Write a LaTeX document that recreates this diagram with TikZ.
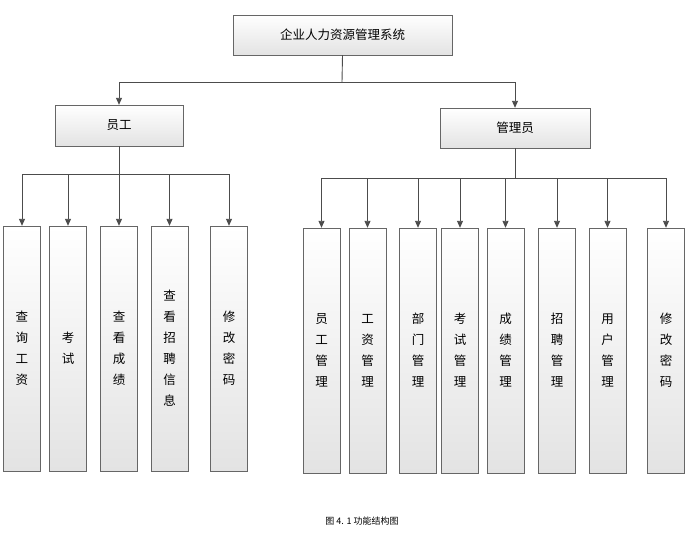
\documentclass[tikz,border=0pt]{standalone}
\usepackage{fontspec}
\setmainfont{Noto Sans CJK SC}
\usetikzlibrary{arrows.meta}
\begin{document}
\begin{tikzpicture}[x=1pt,y=-1pt,
  bx/.style={draw=gray!80!black,top color=white,bottom color=gray!22,inner sep=0pt,font=\fontsize{12.5}{15}\selectfont},
  vbox/.style={bx,minimum width=37pt,minimum height=245pt,align=center,font=\fontsize{12.5}{21}\selectfont},
  con/.style={draw=black!70,line width=0.9pt},
  arr/.style={con,-{Triangle[length=7pt,width=6pt]}}]
\useasboundingbox (0,0) rectangle (692,558);
\node[bx,minimum width=219pt,minimum height=40pt] (root) at (342.5,35) {企业人力资源管理系统};
\node[bx,minimum width=128pt,minimum height=41pt] (emp) at (119,125.5) {员工};
\node[bx,minimum width=150pt,minimum height=40pt] (mgr) at (515,128) {管理员};
\coordinate (rb) at (342,82);
\draw[con] (root.south) -- (rb);
\draw[arr] (rb) -| (emp.north);
\draw[arr] (rb) -| (mgr.north);
% employee children
\foreach \n/\x/\t in {e1/22/查\\询\\工\\资, e2/68/考\\试, e3/119/查\\看\\成\\绩, e4/169.5/查\\看\\招\\聘\\信\\息, e5/229/修\\改\\密\\码}{
  \node[vbox] (\n) at (\x,348.5) {\t};
}
\coordinate (eb) at (119,174);
\draw[con] (emp.south) -- (eb);
\foreach \n in {e1,e2,e3,e4,e5}{\draw[arr] (eb) -| (\n.north);}
% manager children
\foreach \n/\x/\t in {m1/321.5/员\\工\\管\\理, m2/367.5/工\\资\\管\\理, m3/418/部\\门\\管\\理, m4/460/考\\试\\管\\理, m5/505.5/成\\绩\\管\\理, m6/557/招\\聘\\管\\理, m7/607.5/用\\户\\管\\理, m8/666/修\\改\\密\\码}{
  \node[vbox] (\n) at (\x,350.5) {\t};
}
\coordinate (mb) at (515,178);
\draw[con] (mgr.south) -- (mb);
\foreach \n in {m1,m2,m3,m4,m5,m6,m7,m8}{\draw[arr] (mb) -| (\n.north);}
\node[font=\fontsize{9}{10}\selectfont] (cap) at (362,521) {图 4. 1 功能结构图};
\end{tikzpicture}
\end{document}
